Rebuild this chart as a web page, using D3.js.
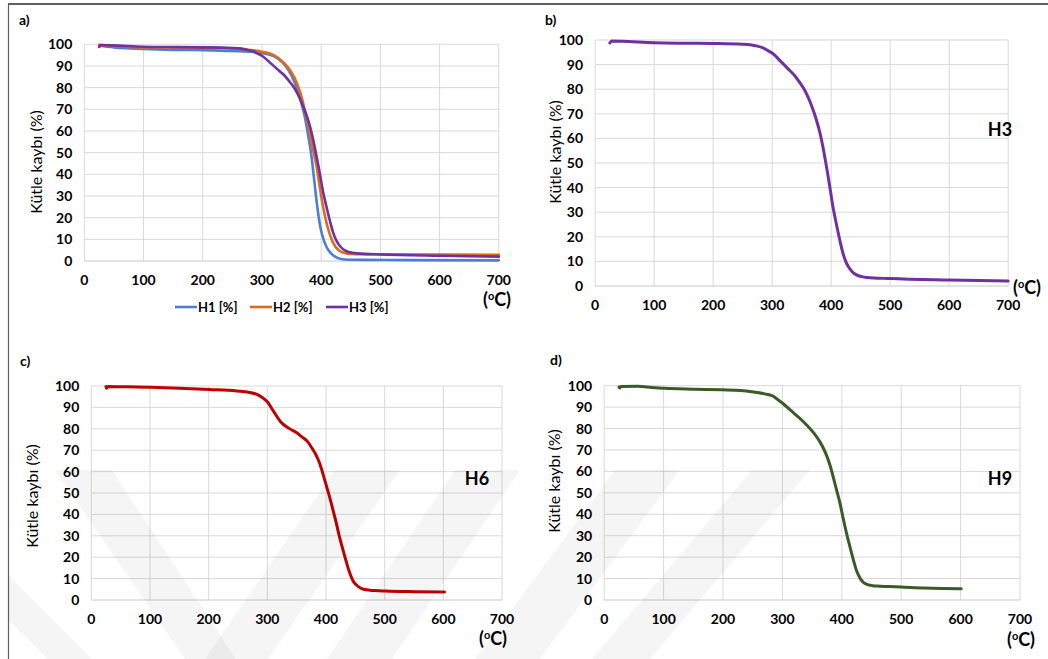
<!DOCTYPE html>
<html>
<head>
<meta charset="utf-8">
<script src="https://cdn.jsdelivr.net/npm/d3@7"></script>
<style>
body { margin: 0; background: #fff; }
text { font-family: Lato, "Open Sans", sans-serif; fill: #000; }
</style>
</head>
<body>
<svg id="fig" width="1048" height="659"></svg>
<script>
// ---- data: [temperature (°C), mass (%)] ----
var h1 = [[25,99.3],[50,98.6],[100,97.8],[150,97.4],[200,97.3],[250,96.9],[280,96.6],[300,96],[320,94.5],[335,91.5],[345,88],[355,82.5],[365,74.5],[372,67],[378,58],[383,49.7],[388,38],[393,26],[398,16.5],[404,10],[410,6],[418,3.2],[425,1.8],[432,1],[440,0.7],[470,0.5],[550,0.4],[700,0.3]];
var h2 = [[25,99.8],[50,99.1],[100,98.6],[150,98.5],[200,98.4],[250,98],[280,97.4],[300,96.6],[320,95],[335,92],[345,89],[355,84.5],[365,77.5],[375,66.5],[385,53],[392,44],[400,30],[410,16.5],[420,8.5],[430,4.8],[440,3.7],[450,3.3],[500,3.1],[600,3.0],[700,2.9]];
var h3 = [[25,98.8],[28,99.6],[45,99.5],[100,98.9],[150,98.7],[200,98.6],[250,98.3],[265,98],[275,97.5],[283.5,96.9],[292,95.8],[300.6,94.6],[315,91.2],[329,87.8],[338,85.6],[346,83],[355,79.7],[363,75.6],[369,71.8],[375,67.5],[381,62.3],[386,56.6],[391,50],[395,44.4],[399,38.3],[403,32.2],[409,25],[414.6,18.7],[420,13.3],[425,9.8],[429,7.9],[436,5.7],[443,4.5],[452,3.8],[460,3.5],[500,3.0],[600,2.4],[700,2.0]];
var h6 = [[25,99.7],[26,98.9],[28,99.8],[60,99.6],[98,99.4],[150,99.0],[201.6,98.4],[247.7,97.7],[270,97],[282,96.1],[292,94.5],[299.6,92.7],[311,88],[322.6,83.3],[337,80.2],[351.4,77.9],[360,76],[368.7,74],[376,71],[383,67.8],[389,64],[394.6,59.2],[400,54],[406,48.3],[412,42],[417.7,35.8],[423,29.5],[429,23.4],[435,17.5],[440.7,12.5],[446,9],[452,7],[458,5.7],[463.8,5],[475,4.6],[484,4.4],[501,4.2],[553,3.9],[602,3.7]];
var h9 = [[25,99.4],[26,98.9],[28,99.6],[56.7,99.7],[80,99.2],[102,98.8],[150,98.4],[198,98.1],[230,97.8],[255,96.9],[270,96.2],[283,95.3],[292,93.6],[300.5,91.8],[312,89],[323,86.3],[335,83.3],[346,80.1],[355,77.2],[363,73.9],[369,70.8],[374,67.7],[380,63],[385.5,57.5],[391,51.5],[397,45.1],[402,38.5],[408,31.1],[414,24.5],[419.5,18.7],[425,13.5],[431,10.1],[436,8.3],[442,7.3],[450,6.8],[459,6.5],[480,6.3],[499,6.1],[538.5,5.6],[570,5.4],[601,5.3]];

var xTicks = [0, 100, 200, 300, 400, 500, 600, 700];
var yTicks = [0, 10, 20, 30, 40, 50, 60, 70, 80, 90, 100];
var yTitle = "Kütle kaybı (%)";

// ---- layout ----
var panels = [
    { label: "a)", lx: 19, ly: 25, box: [84.3, 498.8, 44.3, 261], tx: 36, ty: 162, ux: 497, uy: 306,
      lw: 2.6,
      series: [{ name: "H1 [%]", data: h1, color: "#4a7fd4" },
               { name: "H2 [%]", data: h2, color: "#dc6b1f" },
               { name: "H3 [%]", data: h3, color: "#7030a0" }],
      legend: [175, 250, 326], legendY: 307 },
    { label: "b)", lx: 545, ly: 25, box: [595.1, 1008.2, 40, 286], tx: 555, ty: 152, ux: 1027, uy: 294,
      lw: 3, tag: "H3", gx: 1000, gy: 136,
      series: [{ data: h3, color: "#7030a0" }] },
    { label: "c)", lx: 20, ly: 366, box: [91.3, 502, 386, 600], tx: 32, ty: 496, ux: 493, uy: 645,
      lw: 3, tag: "H6", gx: 477, gy: 485,
      series: [{ data: h6, color: "#c00000" }] },
    { label: "d)", lx: 550, ly: 365, box: [604.2, 1020, 385.7, 600], tx: 554, ty: 481, ux: 1021, uy: 646,
      lw: 3, tag: "H9", gx: 1000, gy: 485,
      series: [{ data: h9, color: "#3a5a28" }] }
];

var svg = d3.select("#fig");

// frame of the figure
svg.append("line").attr("x1", 8).attr("x2", 1048).attr("y1", 4).attr("y2", 4)
    .attr("stroke", "#606060").attr("stroke-width", 2);
svg.append("line").attr("x1", 8.5).attr("x2", 8.5).attr("y1", 4).attr("y2", 659)
    .attr("stroke", "#606060").attr("stroke-width", 1.2);

// faint watermark bands over the lower half
var marks = [
    [[8,575],[8,620],[48,659],[92,659]],
    [[55,470],[112,470],[236,659],[185,659]],
    [[335,470],[400,470],[268,659],[205,659]],
    [[455,470],[520,470],[392,659],[327,659]],
    [[615,470],[680,470],[540,659],[475,659]],
    [[752,470],[810,470],[650,659],[592,659]]
];

panels.forEach(function(p){
    var x = d3.scaleLinear().domain([0, 700]).range([p.box[0], p.box[1]]);
    var y = d3.scaleLinear().domain([0, 100]).range([p.box[3], p.box[2]]);
    var g = svg.append("g");

    g.selectAll(".vgrid").data(xTicks).enter().append("line")
        .attr("x1", d => x(d)).attr("x2", d => x(d))
        .attr("y1", y(100)).attr("y2", y(0))
        .attr("stroke", "#d9d9d9").attr("stroke-width", 1);
    g.selectAll(".hgrid").data(yTicks).enter().append("line")
        .attr("x1", x(0)).attr("x2", x(700))
        .attr("y1", d => y(d)).attr("y2", d => y(d))
        .attr("stroke", d => d == 0 ? "#c8c8c8" : "#d9d9d9").attr("stroke-width", 1);

    g.selectAll(".xt").data(xTicks).enter().append("text")
        .attr("x", d => x(d)).attr("y", y(0) + 24)
        .attr("text-anchor", "middle")
        .style("font-size", "14px").style("font-weight", "bold")
        .text(d => d);
    g.selectAll(".yt").data(yTicks).enter().append("text")
        .attr("x", x(0) - 12).attr("y", d => y(d))
        .attr("dy", "0.36em")
        .attr("text-anchor", "end")
        .style("font-size", "14px").style("font-weight", "bold")
        .text(d => d);

    g.append("text")
        .attr("transform", `translate(${p.tx},${p.ty}) rotate(-90)`)
        .attr("dy", "0.35em")
        .attr("text-anchor", "middle")
        .style("font-size", "16px")
        .text(yTitle);

    g.append("text").attr("x", p.lx).attr("y", p.ly)
        .style("font-size", "14px").style("font-weight", "bold")
        .text(p.label);

    var unit = g.append("text").attr("x", p.ux).attr("y", p.uy)
        .attr("text-anchor", "middle")
        .style("font-size", "18px").style("font-weight", "bold");
    unit.append("tspan").text("(");
    unit.append("tspan").attr("dy", -6).style("font-size", "11px").text("o");
    unit.append("tspan").attr("dy", 6).text("C)");

    if (p.tag) {
        g.append("text").attr("x", p.gx).attr("y", p.gy)
            .attr("text-anchor", "middle")
            .style("font-size", "18px").style("font-weight", "bold")
            .text(p.tag);
    }

    var line = d3.line()
        .x(d => x(d[0]))
        .y(d => y(d[1]))
        .curve(d3.curveMonotoneX);

    p.series.forEach(function(s){
        g.append("path")
            .attr("d", line(s.data))
            .attr("fill", "none")
            .attr("stroke", s.color)
            .attr("stroke-width", p.lw)
            .attr("stroke-linejoin", "round")
            .attr("stroke-linecap", "round");
    });

    if (p.legend) {
        p.series.forEach(function(s, i){
            var lx = p.legend[i];
            g.append("line").attr("x1", lx).attr("x2", lx + 22)
                .attr("y1", p.legendY).attr("y2", p.legendY)
                .attr("stroke", s.color).attr("stroke-width", 2.6);
            g.append("text").attr("x", lx + 23).attr("y", p.legendY)
                .attr("dy", "0.35em")
                .style("font-size", "13px").style("font-weight", "bold")
                .text(s.name);
        });
    }
});

svg.append("g").selectAll("polygon").data(marks).enter().append("polygon")
    .attr("points", d => d.map(q => q.join(",")).join(" "))
    .attr("fill", "#000").attr("fill-opacity", 0.04);
</script>
</body>
</html>
